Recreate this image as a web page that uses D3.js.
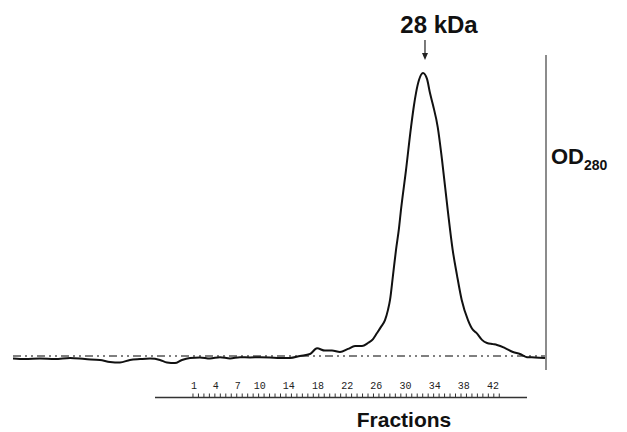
<!DOCTYPE html>
<html><head><meta charset="utf-8">
<script src="https://cdn.jsdelivr.net/npm/d3@7"></script>
<style>body{margin:0;background:#fff;}svg{display:block;}</style>
</head><body>
<svg id="c" width="627" height="432"></svg>
<script>
// Elution position in fraction units, OD280 (relative, peak = 1)
const fractions = [-23.82,-22.17,-20.12,-18.06,-16.0,-13.95,-11.89,-10.52,-9.15,-7.78,-6.40,-5.03,-3.66,-2.70,-1.61,-0.65,0.45,1.82,3.19,4.57,5.94,7.31,8.68,10.05,11.42,12.79,14.16,15.54,16.91,17.87,18.96,19.92,21.02,22.12,23.08,24.04,24.86,25.55,26.09,26.64,27.19,27.60,27.88,28.29,28.70,29.11,29.38,30.07,30.76,31.17,31.44,31.85,32.40,32.95,33.36,33.77,34.42,35.01,35.79,36.47,37.06,37.71,38.57,39.26,39.76,40.49,41.18,42.0,42.55,43.65,44.74,45.70,46.66,47.76,49.13];
const od280 = [-0.009,-0.011,-0.009,-0.011,-0.007,-0.011,-0.014,-0.021,-0.023,-0.014,-0.011,-0.009,-0.014,-0.023,-0.025,-0.014,-0.007,-0.005,-0.009,-0.004,-0.009,-0.004,-0.005,-0.004,-0.005,-0.007,-0.007,0.0,0.007,0.027,0.019,0.019,0.014,0.025,0.035,0.035,0.046,0.060,0.081,0.103,0.127,0.163,0.198,0.286,0.375,0.452,0.516,0.657,0.809,0.887,0.929,0.975,1.0,0.979,0.929,0.887,0.809,0.693,0.516,0.375,0.286,0.198,0.127,0.092,0.081,0.057,0.046,0.042,0.039,0.028,0.014,0.007,-0.004,-0.005,-0.007];
const tickLabels = [1,4,7,10,14,18,22,26,30,34,38,42];
const peakLabel = "28 kDa";
const peakFraction = 32.4;
const xTitle = "Fractions";

const svg = d3.select("#c");
const x = d3.scaleLinear().domain([1,42]).range([194,493]);
const y = d3.scaleLinear().domain([0,1]).range([356,73]);

// baseline (dash-dot-dot)
svg.append("line")
  .attr("x1", x(fractions[0])).attr("x2", x(fractions[fractions.length-1]))
  .attr("y1", y(0)).attr("y2", y(0))
  .attr("stroke","#555").attr("stroke-width",1.6)
  .attr("stroke-dasharray","8,4,2,4,2,4");

// right axis line
svg.append("line").attr("x1",546).attr("x2",546).attr("y1",55).attr("y2",370)
  .attr("stroke","#666").attr("stroke-width",1.5);

// curve
const line = d3.line().x((d,i)=>x(fractions[i])).y(d=>y(d)).curve(d3.curveMonotoneX);
svg.append("path").datum(od280).attr("d",line)
  .attr("fill","none").attr("stroke","#111").attr("stroke-width",2);

// fraction scale
const minor = d3.range(0.86, 43.05, 0.75);
const g = svg.append("g");
g.append("line").attr("x1",155).attr("x2",527).attr("y1",397.5).attr("y2",397.5)
  .attr("stroke","#333").attr("stroke-width",1.3);
g.selectAll("line.t").data(minor).enter().append("line").attr("class","t")
  .attr("x1",d=>x(d)).attr("x2",d=>x(d)).attr("y1",393.5).attr("y2",397)
  .attr("stroke","#333").attr("stroke-width",1);
g.selectAll("text.l").data(tickLabels).enter().append("text").attr("class","l")
  .attr("x",d=>x(d)).attr("y",389).attr("text-anchor","middle")
  .attr("font-family","Liberation Mono, monospace").attr("font-size",10).attr("fill","#222")
  .text(d=>d);

// peak annotation
svg.append("text").attr("x",x(peakFraction)+16).attr("y",33).attr("text-anchor","middle")
  .attr("font-family","Liberation Sans, Arial, sans-serif").attr("font-weight","bold")
  .attr("font-size",24).attr("fill","#111").text(peakLabel);
svg.append("line").attr("x1",x(peakFraction)+2).attr("x2",x(peakFraction)+2)
  .attr("y1",40).attr("y2",54).attr("stroke","#222").attr("stroke-width",1.2);
svg.append("path")
  .attr("d",`M${x(peakFraction)+2-3},53 L${x(peakFraction)+2+3},53 L${x(peakFraction)+2},60 Z`)
  .attr("fill","#222");

// OD280 label
const od = svg.append("text").attr("x",551).attr("y",164)
  .attr("font-family","Liberation Sans, Arial, sans-serif").attr("font-weight","bold").attr("fill","#111");
od.append("tspan").attr("font-size",22).text("OD");
od.append("tspan").attr("font-size",14).attr("dy",6).text("280");

// x title
svg.append("text").attr("x",404).attr("y",427).attr("text-anchor","middle")
  .attr("font-family","Liberation Sans, Arial, sans-serif").attr("font-weight","bold")
  .attr("font-size",21).attr("fill","#111").text(xTitle);
</script>
</body></html>
